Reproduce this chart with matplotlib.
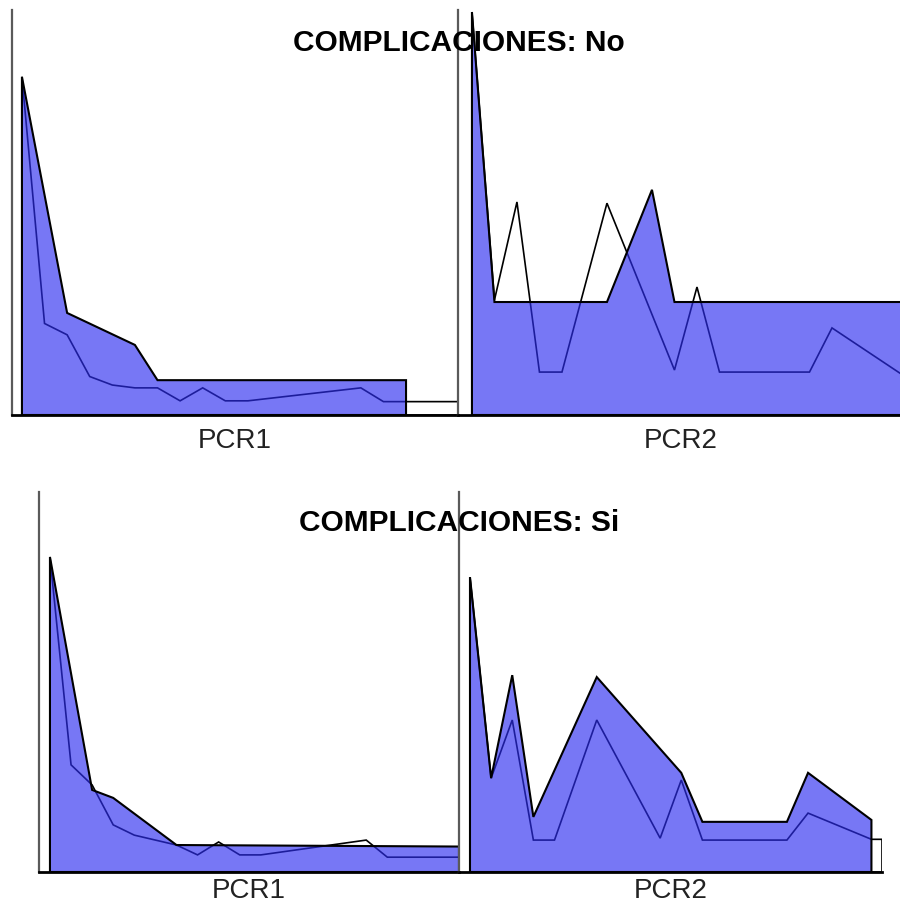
import matplotlib
matplotlib.use('Agg')
import matplotlib.pyplot as plt
from matplotlib.patches import Polygon

plt.rcParams['font.family'] = ['Liberation Sans', 'DejaVu Sans']

# --- datos: poligonos de frecuencia (x = intervalo, y = % de la altura) ---
grupos = ['No', 'Si']
variables = ['PCR1', 'PCR2']

no_pcr1_area_x = [0, 2, 5, 6, 17]
no_pcr1_area_y = [83.5, 25.2, 17.3, 8.6, 8.6]
no_pcr1_line_x = [0, 1, 2, 3, 4, 5, 6, 7, 8, 9, 10, 15, 16, 17, 19.3]
no_pcr1_line_y = [83.5, 22.6, 19.8, 9.5, 7.4, 6.7, 6.7, 3.5, 6.7, 3.5, 3.5, 6.7, 3.3, 3.3, 3.3]

no_pcr2_area_x = [0, 1, 6, 8, 9, 19.2]
no_pcr2_area_y = [99.5, 27.9, 27.9, 55.6, 27.9, 27.9]
no_pcr2_line_x = [0, 1, 2, 3, 4, 6, 9, 10, 11, 15, 16, 19, 19.2]
no_pcr2_line_y = [99.5, 28.4, 52.6, 10.6, 10.6, 52.3, 11.1, 31.6, 10.6, 10.6, 21.5, 10.4, 9.7]

si_pcr1_area_x = [0, 2, 3, 6, 19.4]
si_pcr1_area_y = [82.9, 21.6, 19.5, 7.1, 6.7]
si_pcr1_line_x = [0, 1, 2, 3, 4, 6, 7, 8, 9, 10, 15, 16, 19.4]
si_pcr1_line_y = [82.9, 28.2, 22.9, 12.4, 9.7, 7.1, 4.5, 7.9, 4.5, 4.5, 8.4, 3.9, 3.9]

si_pcr2_area_x = [0, 1, 2, 3, 6, 10, 11, 15, 16, 19]
si_pcr2_area_y = [77.6, 24.7, 51.8, 14.5, 51.3, 26.1, 13.2, 13.2, 26.1, 13.7]
si_pcr2_line_x = [0, 1, 2, 3, 4, 6, 9, 10, 11, 15, 16, 19, 19.5]
si_pcr2_line_y = [77.6, 24.7, 40.0, 8.4, 8.4, 40.0, 8.9, 24.2, 8.4, 8.4, 15.5, 8.6, 8.6]

series = {
    ('No', 'PCR1'): (no_pcr1_area_x, no_pcr1_area_y, no_pcr1_line_x, no_pcr1_line_y),
    ('No', 'PCR2'): (no_pcr2_area_x, no_pcr2_area_y, no_pcr2_line_x, no_pcr2_line_y),
    ('Si', 'PCR1'): (si_pcr1_area_x, si_pcr1_area_y, si_pcr1_line_x, si_pcr1_line_y),
    ('Si', 'PCR2'): (si_pcr2_area_x, si_pcr2_area_y, si_pcr2_line_x, si_pcr2_line_y),
}

# --- posiciones de los paneles (pixeles: izq, der, arriba, abajo) y margen x ---
W, H = 900, 909
paneles = {
    ('No', 'PCR1'): (12, 458, 10, 415, -0.44),
    ('No', 'PCR2'): (458, 904, 10, 415, -0.62),
    ('Si', 'PCR1'): (39, 459, 492, 872, -0.52),
    ('Si', 'PCR2'): (459, 882, 492, 872, -0.52),
}
titulos_y = {'No': 51, 'Si': 531}
labelpad = {'No': 9, 'Si': 4}

relleno = (46 / 255, 46 / 255, 240 / 255, 0.65)

fig = plt.figure(figsize=(W / 100, H / 100), dpi=100)

for (grupo, var), (x0, x1, y0, y1, xmin) in paneles.items():
    ax = fig.add_axes([x0 / W, (H - y1) / H, (x1 - x0) / W, (y1 - y0) / H])
    ax_x, ax_y, ln_x, ln_y = series[(grupo, var)]

    # linea: poligono sin relleno, cerrado sobre la base
    pts = [(ln_x[0], 0)] + list(zip(ln_x, ln_y)) + [(ln_x[-1], 0)]
    ax.add_patch(Polygon(pts, closed=True, facecolor='none', edgecolor='black', linewidth=1.2, zorder=2))

    # area: poligono relleno azul con borde negro
    pts = [(ax_x[0], 0)] + list(zip(ax_x, ax_y)) + [(ax_x[-1], 0)]
    ax.add_patch(Polygon(pts, closed=True, facecolor=relleno, edgecolor='black', linewidth=1.5, zorder=3))

    ax.set_xlim(xmin, max(max(ax_x), max(ln_x)))
    ax.set_ylim(0, 100)
    ax.set_xticks([])
    ax.set_yticks([])
    ax.set_facecolor('none')
    for s in ['top', 'right']:
        ax.spines[s].set_visible(False)
    ax.spines['left'].set_color('#5a5a5a')
    ax.spines['left'].set_linewidth(1.6)
    ax.spines['bottom'].set_color('black')
    ax.spines['bottom'].set_linewidth(2)
    ax.set_xlabel(var, fontsize=20, color='#222222', labelpad=labelpad[grupo])

for grupo in grupos:
    fig.text(459 / W, 1 - titulos_y[grupo] / H, f'COMPLICACIONES: {grupo}',
             ha='center', va='baseline', fontsize=21.5, fontweight='bold', color='black')

fig.savefig('out.png', dpi=100, facecolor='white')
